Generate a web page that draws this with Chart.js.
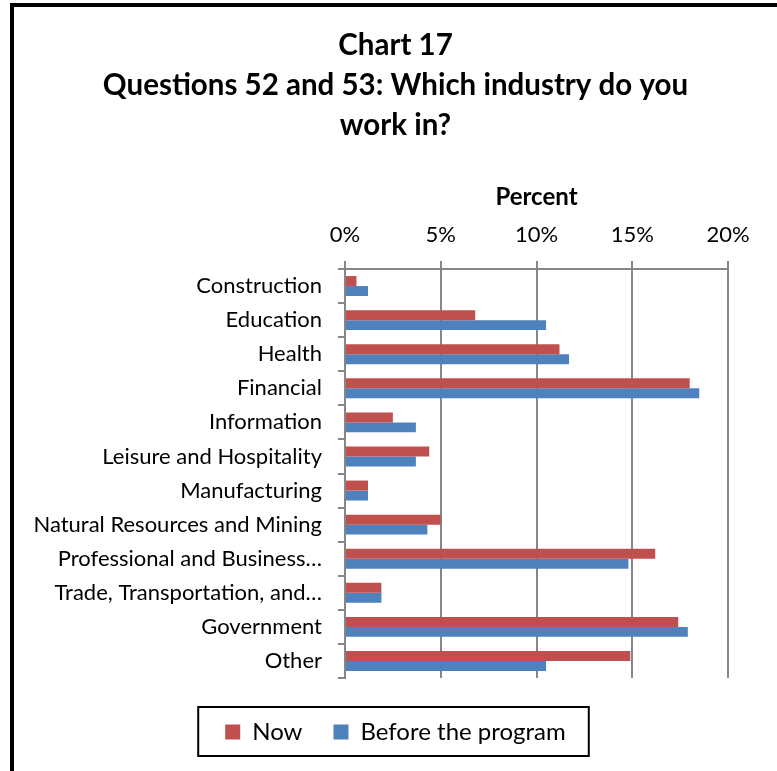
<!DOCTYPE html>
<html>
<head>
<meta charset="utf-8">
<script src="https://cdn.jsdelivr.net/npm/chart.js@4"></script>
<style>
  html, body { margin: 0; padding: 0; background: #fff; }
  #frame {
    position: absolute; left: 10px; top: 3px;
    width: 767px; height: 768px;
    border-left: 4px solid #000; border-top: 4px solid #000;
  }
  #myChart { position: absolute; left: 0; top: 0; }
</style>
</head>
<body>
<div id="frame"><canvas id="myChart" width="763" height="764"></canvas></div>
<script>
// 데이터
const categories = [
    'Construction', 'Education', 'Health', 'Financial', 'Information',
    'Leisure and Hospitality', 'Manufacturing', 'Natural Resources and Mining',
    'Professional and Business…', 'Trade, Transportation, and…', 'Government', 'Other'
];
const nowValues    = [0.6, 6.8, 11.2, 18.0, 2.5, 4.4, 1.2, 5.0, 16.2, 1.9, 17.4, 14.9];
const beforeValues = [1.2, 10.5, 11.7, 18.5, 3.7, 3.7, 1.2, 4.3, 14.8, 1.9, 17.9, 10.5];
const xTicks = [0, 5, 10, 15, 20];

const FONT = 'Lato, "Noto Sans", sans-serif';
const gridGray = '#868686';

// 범례 테두리
const legendFrame = {
    id: 'legendFrame',
    afterDraw(chart) {
        const boxes = chart.legend.legendHitBoxes;
        if (!boxes || !boxes.length) return;
        const first = boxes[0], last = boxes[boxes.length - 1];
        const cy = first.top + first.height / 2;
        const ctx = chart.ctx;
        ctx.save();
        ctx.strokeStyle = '#000';
        ctx.lineWidth = 2;
        ctx.strokeRect(first.left - 27, cy - 25, (last.left + last.width + 23) - (first.left - 27), 49);
        ctx.restore();
    }
};

const ctx = document.getElementById('myChart').getContext('2d');
const myChart = new Chart(ctx, {
    type: 'bar',
    data: {
        labels: categories,
        datasets: [
            { label: 'Now', data: nowValues, backgroundColor: '#C0504D', xAxisID: 'x', yAxisID: 'y' },
            { label: 'Before the program', data: beforeValues, backgroundColor: '#4F81BD', xAxisID: 'x', yAxisID: 'y' }
        ]
    },
    options: {
        indexAxis: 'y',
        responsive: false,
        animation: false,
        events: [],
        layout: { padding: { left: 0, right: 0, top: 0, bottom: 17 } },
        datasets: { bar: { categoryPercentage: 0.586, barPercentage: 1 } },
        plugins: {
            title: {
                display: true,
                text: ['Chart 17', 'Questions 52 and 53: Which industry do you', 'work in?'],
                color: '#000',
                font: { family: FONT, size: 29.5, weight: 'bold', lineHeight: '40px' },
                padding: { top: 18, bottom: 0 }
            },
            legend: {
                position: 'bottom',
                labels: {
                    color: '#000',
                    font: { family: FONT, size: 24 },
                    boxWidth: 15, boxHeight: 15,
                    padding: 31
                }
            },
            tooltip: { enabled: false }
        },
        scales: {
            x: {
                position: 'top',
                min: 0, max: 20,
                afterBuildTicks(s) { s.ticks = xTicks.map(v => ({ value: v })); },
                afterFit(s) { s.height = 124; },
                ticks: {
                    color: '#000',
                    font: { family: FONT, size: 22 },
                    padding: 13,
                    callback: v => v + '%'
                },
                grid: { color: gridGray, lineWidth: 2, tickLength: 8 },
                border: { color: gridGray, width: 2 },
                title: {
                    display: true, text: 'Percent', color: '#000',
                    font: { family: FONT, size: 24, weight: 'bold' },
                    padding: { top: 38, bottom: 0 }
                }
            },
            y: {
                afterFit(s) { s.width = 331; },
                ticks: {
                    color: '#000',
                    font: { family: FONT, size: 22 },
                    padding: 16,
                    autoSkip: false
                },
                grid: { color: gridGray, lineWidth: 2, tickLength: 7, drawOnChartArea: false },
                border: { color: gridGray, width: 2 }
            },
            gap: {
                type: 'linear', position: 'bottom', display: true,
                grid: { display: false }, border: { display: false },
                ticks: { display: false },
                afterFit(s) { s.height = 11; }
            },
            gapRight: {
                type: 'linear', position: 'right', display: true,
                grid: { display: false }, border: { display: false },
                ticks: { display: false },
                afterFit(s) { s.width = 49; }
            }
        }
    },
    plugins: [legendFrame]
});
</script>
</body>
</html>
